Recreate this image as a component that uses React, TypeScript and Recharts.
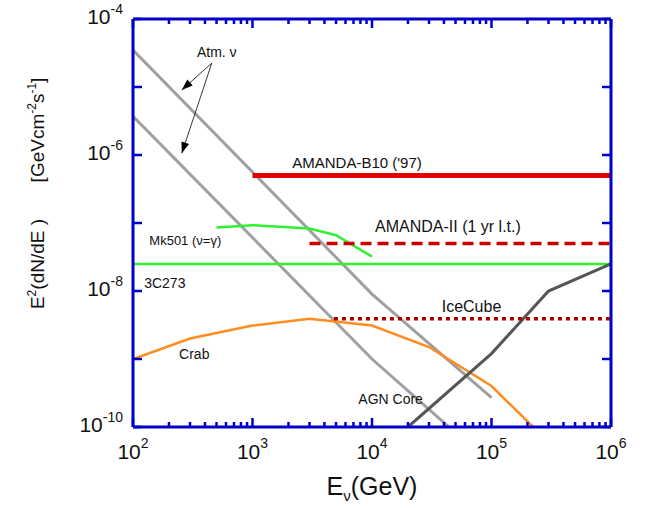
import React from "react";
import { LineChart, Line, XAxis, YAxis, ReferenceDot } from "recharts";

// energies in GeV, fluxes E^2 dN/dE in GeV cm^-2 s^-1
const atmUpper = [
  { x: 100, y: 3.5e-5 },
  { x: 1e4, y: 9e-9 },
  { x: 1e5, y: 2.7e-10 },
];
const atmLower = [
  { x: 100, y: 3.7e-6 },
  { x: 1e4, y: 1e-9 },
  { x: 1e5, y: 2.8e-11 },
];
const amandaB10 = [
  { x: 1e3, y: 5e-7 },
  { x: 3e3, y: 5e-7 },
  { x: 1e4, y: 5e-7 },
  { x: 3e4, y: 5e-7 },
  { x: 1e5, y: 5e-7 },
  { x: 3e5, y: 5e-7 },
  { x: 1e6, y: 5e-7 },
];
const amandaII = [
  { x: 3e3, y: 5e-8 },
  { x: 1e6, y: 5e-8 },
];
const iceCube = [
  { x: 4.8e3, y: 3.9e-9 },
  { x: 1e6, y: 3.9e-9 },
];
const mk501 = [
  { x: 500, y: 8.6e-8 },
  { x: 1e3, y: 9.3e-8 },
  { x: 3e3, y: 8.3e-8 },
  { x: 5e3, y: 6.6e-8 },
  { x: 1e4, y: 3.2e-8 },
];
const c3c273 = [
  { x: 100, y: 2.5e-8 },
  { x: 1e6, y: 2.5e-8 },
];
const crab = [
  { x: 100, y: 1e-9 },
  { x: 300, y: 2e-9 },
  { x: 1e3, y: 3.1e-9 },
  { x: 3e3, y: 3.9e-9 },
  { x: 1e4, y: 3.1e-9 },
  { x: 3e4, y: 1.5e-9 },
  { x: 1e5, y: 4e-10 },
  { x: 3e5, y: 6e-11 },
];
const agnCore = [
  { x: 2e4, y: 1e-10 },
  { x: 1e5, y: 1.2e-9 },
  { x: 3e5, y: 1e-8 },
  { x: 1e6, y: 2.5e-8 },
];
const arrowA = [
  { x: 456, y: 2.24e-5 },
  { x: 256, y: 9.06e-6 },
];
const arrowB = [
  { x: 456, y: 2.24e-5 },
  { x: 256, y: 1.06e-6 },
];

const labels = [
  { text: "Atm. ν", x: 343, y: 2.8e-5, size: 14 },
  { text: "AMANDA-B10 ('97)", x: 2150, y: 6.4e-7, size: 15 },
  { text: "AMANDA-II (1 yr l.t.)", x: 1.06e4, y: 7.4e-8, size: 16 },
  { text: "Mk501  (ν=γ)", x: 137, y: 4.8e-8, size: 13 },
  { text: "3C273", x: 124, y: 1.09e-8, size: 14 },
  { text: "Crab", x: 243, y: 1.01e-9, size: 14 },
  { text: "IceCube", x: 3.83e4, y: 4.9e-9, size: 16 },
  { text: "AGN Core", x: 7680, y: 2.15e-10, size: 14 },
];

const xTicks: number[] = [];
for (let k = 2; k <= 5; k++) {
  for (let m = 1; m <= 9; m++) xTicks.push(Number((m * Math.pow(10, k)).toPrecision(6)));
}
xTicks.push(1e6);
const yTicks = [1e-10, 1e-9, 1e-8, 1e-7, 1e-6, 1e-5, 1e-4];
const yLabelled = [-4, -6, -8, -10];

const BLUE = "#0000cc";
const FONT = "'Liberation Sans', Arial, Helvetica, sans-serif";

const isMajor = (v: number) => Math.abs(Math.log10(v) - Math.round(Math.log10(v))) < 1e-6;

function BottomTick(props: any) {
  const { x, y, payload } = props;
  const v = payload.value;
  const major = isMajor(v);
  const e = Math.round(Math.log10(v));
  return (
    <g>
      <line x1={x} x2={x} y1={y} y2={y - (major ? 9 : 5)} stroke={BLUE} strokeWidth={2.5} />
      {major && (
        <text x={x} y={y + 32} textAnchor="middle" fontFamily={FONT} fontSize={21} fill="#111">
          10
          <tspan dy={-11} fontSize={14}>{e}</tspan>
        </text>
      )}
    </g>
  );
}

function TopTick(props: any) {
  const { x, y, payload } = props;
  const major = isMajor(payload.value);
  return <line x1={x} x2={x} y1={y} y2={y + (major ? 9 : 5)} stroke={BLUE} strokeWidth={2.5} />;
}

function LeftTick(props: any) {
  const { x, y, payload } = props;
  const e = Math.round(Math.log10(payload.value));
  return (
    <g>
      <line x1={x} x2={x + 9} y1={y} y2={y} stroke={BLUE} strokeWidth={2.5} />
      {yLabelled.includes(e) && (
        <text x={x - 10} y={y + 5} textAnchor="end" fontFamily={FONT} fontSize={21} fill="#111">
          10
          <tspan dy={-10} fontSize={14}>{e}</tspan>
        </text>
      )}
    </g>
  );
}

function RightTick(props: any) {
  const { x, y } = props;
  return <line x1={x} x2={x - 9} y1={y} y2={y} stroke={BLUE} strokeWidth={2.5} />;
}

function makeArrowDot() {
  let start = { x: 0, y: 0 };
  return (p: any) => {
    if (p.index === 0) {
      start = { x: p.cx, y: p.cy };
      return <g key={`a-${p.index}`} />;
    }
    const ang = Math.atan2(p.cy - start.y, p.cx - start.x);
    const deg = (ang * 180) / Math.PI;
    return (
      <path
        key={`a-${p.index}`}
        d="M0,0 L-11,-4 L-11,4 Z"
        fill="#000"
        transform={`translate(${p.cx},${p.cy}) rotate(${deg})`}
      />
    );
  };
}

function XTitle(props: any) {
  const { viewBox } = props;
  const cx = viewBox.x + viewBox.width / 2;
  return (
    <text x={cx} y={viewBox.y + 68} textAnchor="middle" fontFamily={FONT} fontSize={25} fill="#111">
      E
      <tspan dy={6} fontSize={15}>ν</tspan>
      <tspan dy={-6}>(GeV)</tspan>
    </text>
  );
}

function YTitle() {
  const bx = 44;
  return (
    <g fontFamily={FONT} fontSize={19} fill="#111">
      <text x={bx} y={264} textAnchor="middle" transform={`rotate(-90, ${bx}, 264)`}>
        E<tspan dy={-8} fontSize={12}>2</tspan>
        <tspan dy={8}>(dN/dE )</tspan>
      </text>
      <text x={bx} y={130} textAnchor="middle" transform={`rotate(-90, ${bx}, 130)`}>
        [GeVcm<tspan dy={-8} fontSize={12}>-2</tspan>
        <tspan dy={8}>s</tspan>
        <tspan dy={-8} fontSize={12}>-1</tspan>
        <tspan dy={8}>]</tspan>
      </text>
    </g>
  );
}

const axisCommon = {
  type: "number" as const,
  scale: "log" as const,
  allowDataOverflow: true,
  interval: 0 as const,
  tickSize: 0,
  tickMargin: 0,
  tickLine: false,
  axisLine: { stroke: BLUE, strokeWidth: 3 },
};

export default function App() {
  const dotA = makeArrowDot();
  const dotB = makeArrowDot();
  return (
    <div style={{ position: "absolute", left: 0, top: 0, width: 649, height: 508, background: "#fff" }}>
      <LineChart width={649} height={508} margin={{ top: 18, right: 37, bottom: 80, left: 132 }}>
        <XAxis
          {...axisCommon}
          xAxisId="main"
          dataKey="x"
          domain={[100, 1e6]}
          ticks={xTicks}
          height={1}
          tick={<BottomTick />}
          label={<XTitle />}
        />
        <XAxis
          {...axisCommon}
          xAxisId="top"
          orientation="top"
          dataKey="x"
          domain={[100, 1e6]}
          ticks={xTicks}
          height={1}
          tick={<TopTick />}
        />
        <YAxis
          {...axisCommon}
          yAxisId="main"
          dataKey="y"
          domain={[1e-10, 1e-4]}
          ticks={yTicks}
          width={1}
          tick={<LeftTick />}
          label={<YTitle />}
        />
        <YAxis
          {...axisCommon}
          yAxisId="right"
          orientation="right"
          dataKey="y"
          domain={[1e-10, 1e-4]}
          ticks={yTicks}
          width={1}
          tick={<RightTick />}
        />
        <Line xAxisId="main" yAxisId="main" data={atmUpper} dataKey="y" stroke="#a0a0a0" strokeWidth={3} dot={false} isAnimationActive={false} />
        <Line xAxisId="main" yAxisId="main" data={atmLower} dataKey="y" stroke="#a0a0a0" strokeWidth={3} dot={false} isAnimationActive={false} />
        <Line xAxisId="main" yAxisId="main" data={c3c273} dataKey="y" stroke="#33ee33" strokeWidth={2.5} dot={false} isAnimationActive={false} />
        <Line xAxisId="main" yAxisId="main" data={mk501} dataKey="y" stroke="#33ee33" strokeWidth={2.5} dot={false} isAnimationActive={false} />
        <Line xAxisId="main" yAxisId="main" data={crab} dataKey="y" stroke="#ff8c1e" strokeWidth={2.5} dot={false} isAnimationActive={false} />
        <Line xAxisId="main" yAxisId="main" data={agnCore} dataKey="y" stroke="#555555" strokeWidth={3} dot={false} isAnimationActive={false} />
        <Line xAxisId="main" yAxisId="main" data={amandaB10} dataKey="y" stroke="#e00000" strokeWidth={5} dot={false} isAnimationActive={false} />
        <Line xAxisId="main" yAxisId="main" data={amandaII} dataKey="y" stroke="#cc0000" strokeWidth={3.5} strokeDasharray="11 6" dot={false} isAnimationActive={false} />
        <Line xAxisId="main" yAxisId="main" data={iceCube} dataKey="y" stroke="#aa0000" strokeWidth={3.5} strokeDasharray="4 4" dot={false} isAnimationActive={false} />
        <Line xAxisId="main" yAxisId="main" data={arrowA} dataKey="y" stroke="#000" strokeWidth={0.8} dot={dotA} activeDot={false} isAnimationActive={false} />
        <Line xAxisId="main" yAxisId="main" data={arrowB} dataKey="y" stroke="#000" strokeWidth={0.8} dot={dotB} activeDot={false} isAnimationActive={false} />
        {labels.map((l) => (
          <ReferenceDot
            key={l.text}
            xAxisId="main"
            yAxisId="main"
            x={l.x}
            y={l.y}
            r={0}
            ifOverflow="visible"
            shape={(p: any) => (
              <text x={p.cx} y={p.cy} fontFamily={FONT} fontSize={l.size} fill="#111">
                {l.text}
              </text>
            )}
          />
        ))}
      </LineChart>
    </div>
  );
}
